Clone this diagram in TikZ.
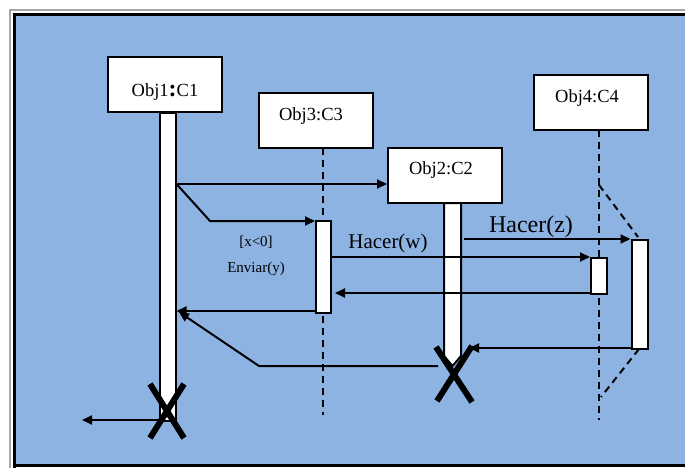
\documentclass[tikz,border=0pt]{standalone}
\usepackage{fontspec}
\setmainfont{Liberation Serif}
\usetikzlibrary{arrows.meta}
\definecolor{seqblue}{RGB}{141,179,226}
\tikzset{
	objbox/.style={draw, line width=2pt, fill=white, minimum width=114pt, minimum height=55pt, inner sep=0pt},
	actbar/.style={draw, line width=2pt, fill=white, minimum width=16pt, inner sep=0pt, anchor=north},
	objtext/.style={font=\fontsize{18.5}{18.5}\selectfont},
	msg/.style={line width=2pt, -{Triangle[length=10pt,width=9pt]}},
	lifeline/.style={line width=2pt, dash pattern=on 7pt off 5pt},
	killmark/.style={line width=6pt}
}

\begin{document}
\begin{tikzpicture}[x=1pt, y=-1pt]
		%%%%% START %%%%%
		\useasboundingbox (0,0) rectangle (685,468);
		\fill[white] (0,0) rectangle (685,468);
		\fill[seqblue] (16,16) rectangle (685,463.5);
		\draw[gray!70, line width=1.5pt] (10,468) -- (10,10) -- (685,10);
		\draw[line width=3.5pt] (14.5,468) -- (14.5,14.7) -- (685,14.7);
		\draw[line width=3.5pt] (13,465.5) -- (685,465.5);
		
		% objects
		\node[objbox] (obj1) at (165,84.5) {};
		\node[objbox] (obj3) at (316,120.5) {};
		\node[objbox] (obj2) at (445,175.5) {};
		\node[objbox] (obj4) at (591,102.5) {};
		\node[objtext] (obj1lbl) at (165,92) {Obj1\textbf{\fontsize{24}{24}\selectfont:}C1};
		\node[objtext] (obj3lbl) at (311,116) {Obj3:C3};
		\node[objtext] (obj2lbl) at (441,170) {Obj2:C2};
		\node[objtext] (obj4lbl) at (587,98) {Obj4:C4};
		
		% lifelines
		\draw[lifeline] (323,148) -- (323,415);
		\draw[lifeline] (599,130) -- (599,420);
		\draw[lifeline] (599,185) -- (638,237);
		\draw[lifeline] (639,349) -- (601,397);
		
		% activations
		\node[actbar, minimum height=308pt] (act1) at (167.5,112) {};
		\node[actbar, minimum width=15pt, minimum height=92pt] (act3) at (323.5,220) {};
		\node[actbar, minimum height=36pt] (act4a) at (599,257) {};
		\node[actbar, minimum height=109pt] (act4b) at (639.5,239) {};
		\draw[line width=2pt, fill=white] (444,203) -- (444,356) -- (452.5,366) -- (461,356) -- (461,203) -- cycle;
		
		% messages
		\coordinate (c1) at (act1.east |- 0,184);
		\coordinate (c2) at (210,221);
		\coordinate (c3) at (obj2.west |- c1);
		\coordinate (c4) at (act3.west |- c2);
		\coordinate (c5) at (act3.east |- 0,257);
		\coordinate (c6) at (act4a.west |- c5);
		\coordinate (c7) at (act4a.west |- 0,293);
		\coordinate (c8) at (335,293);
		\coordinate (c9) at (464,239);
		\coordinate (c10) at (act4b.west |- c9);
		\coordinate (c11) at (act3.west |- 0,311);
		\coordinate (c12) at (act1.east |- c11);
		\coordinate (c13) at (438,366);
		\coordinate (c14) at (259,366);
		\coordinate (c15) at (179,312);
		\coordinate (c16) at (act4b.west |- 0,348);
		\coordinate (c17) at (469,348);
		\coordinate (c18) at (160,420);
		\coordinate (c19) at (82,420);
		
		\draw[msg] (c1) -- (c3);
		\draw[msg] (c1) -- (c2) -- (c4);
		\draw[msg] (c5) -- (c6);
		\draw[msg] (c7) -- (c8);
		\draw[msg] (c9) -- (c10);
		\draw[msg] (c11) -- (c12);
		\draw[msg] (c13) -- (c14) -- (c15);
		\draw[msg] (c16) -- (c17);
		\draw[msg] (c18) -- (c19);
		
		\node[font=\fontsize{15}{15}\selectfont] (guard) at (256,242) {[x<0]};
		\node[font=\fontsize{15}{15}\selectfont] (send) at (256,269) {Enviar(y)};
		\node[font=\fontsize{21}{21}\selectfont] (dow) at (388,243) {Hacer(w)};
		\node[font=\fontsize{24}{24}\selectfont] (doz) at (531,227) {Hacer(z)};
		
		% destruction
		\draw[killmark] (150,384) -- (184,438);
		\draw[killmark] (184,384) -- (150,438);
		\draw[killmark] (436,347) -- (472,402);
		\draw[killmark] (472,346) -- (437,401);
		%%%%% END %%%%%
	\end{tikzpicture}
\end{document}
